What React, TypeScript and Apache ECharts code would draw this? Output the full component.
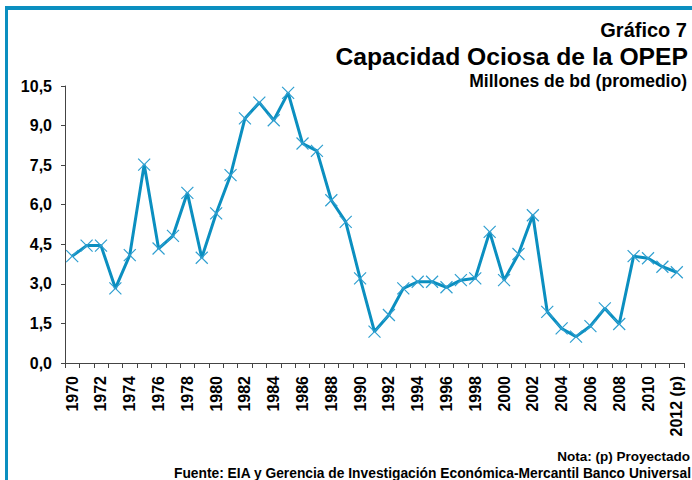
import React, { useEffect, useRef } from "react";
import * as echarts from "echarts";

const years: string[] = [
  "1970", "1971", "1972", "1973", "1974", "1975", "1976", "1977", "1978", "1979",
  "1980", "1981", "1982", "1983", "1984", "1985", "1986", "1987", "1988", "1989",
  "1990", "1991", "1992", "1993", "1994", "1995", "1996", "1997", "1998", "1999",
  "2000", "2001", "2002", "2003", "2004", "2005", "2006", "2007", "2008", "2009",
  "2010", "2011", "2012 (p)",
];

const capacidadOciosa: number[] = [
  4.05, 4.45, 4.45, 2.83, 4.09, 7.52, 4.34, 4.82, 6.45, 3.99,
  5.67, 7.12, 9.27, 9.87, 9.2, 10.24, 8.32, 8.04, 6.17, 5.35,
  3.21, 1.19, 1.82, 2.83, 3.08, 3.08, 2.87, 3.14, 3.21, 4.97,
  3.14, 4.13, 5.6, 1.94, 1.31, 1.0, 1.4, 2.07, 1.48, 4.05,
  3.97, 3.65, 3.44,
];

const titleLines: string[] = [
  "Gráfico 7",
  "Capacidad Ociosa de la OPEP",
  "Millones de bd (promedio)",
];
const footNote = "Nota: (p) Proyectado";
const footSource =
  "Fuente: EIA y Gerencia de Investigación Económica-Mercantil Banco Universal";

const FONT = "'Liberation Sans', Arial, Helvetica, sans-serif";
const BLUE = "#0b8fc0";
const MARK = "#2f9fd0";

export default function App() {
  const ref = useRef<HTMLDivElement>(null);

  useEffect(() => {
    if (!ref.current) return;
    const chart = echarts.init(ref.current, null, { renderer: "svg" });
    chart.setOption({
      animation: false,
      backgroundColor: "#ffffff",
      grid: { left: 65, right: 8, top: 86, bottom: 117, containLabel: false },
      xAxis: {
        type: "category",
        data: years,
        boundaryGap: true,
        axisLine: { lineStyle: { color: "#444", width: 1 } },
        axisTick: { show: true, interval: 0, length: 5, lineStyle: { color: "#444" } },
        axisLabel: {
          interval: 1,
          rotate: 90,
          margin: 13,
          color: "#000",
          fontFamily: FONT,
          fontWeight: "bold",
          fontSize: 16,
        },
        splitLine: { show: false },
      },
      yAxis: {
        type: "value",
        min: 0,
        max: 10.5,
        interval: 1.5,
        axisLine: { show: true, lineStyle: { color: "#444", width: 1 } },
        axisTick: { show: true, length: 4, lineStyle: { color: "#444" } },
        axisLabel: {
          margin: 13,
          color: "#000",
          fontFamily: FONT,
          fontWeight: "bold",
          fontSize: 16,
          formatter: (v: number) => v.toFixed(1).replace(".", ","),
        },
        splitLine: { show: false },
      },
      series: [
        {
          type: "line",
          data: capacidadOciosa,
          lineStyle: { color: BLUE, width: 3 },
          symbol: "path://M0,0L10,10M10,0L0,10",
          symbolSize: 12,
          showSymbol: true,
          showAllSymbol: true,
          itemStyle: { color: MARK, borderColor: MARK, borderWidth: 1.2 },
          z: 3,
        },
      ],
      graphic: [
        { type: "rect", shape: { x: 5, y: 6, width: 700, height: 4 }, style: { fill: BLUE }, silent: true },
        { type: "rect", shape: { x: 5, y: 6, width: 3, height: 480 }, style: { fill: BLUE }, silent: true },
        {
          type: "text", x: 687, y: 30,
          style: { text: titleLines[0], fill: "#000", font: `bold 20px ${FONT}`, align: "right", verticalAlign: "middle" },
        },
        {
          type: "text", x: 688, y: 56,
          style: { text: titleLines[1], fill: "#000", font: `bold 24.7px ${FONT}`, align: "right", verticalAlign: "middle" },
        },
        {
          type: "text", x: 687, y: 81,
          style: { text: titleLines[2], fill: "#000", font: `bold 17.5px ${FONT}`, align: "right", verticalAlign: "middle" },
        },
        {
          type: "text", x: 690, y: 456,
          style: { text: footNote, fill: "#000", font: `bold 13.5px ${FONT}`, align: "right", verticalAlign: "middle" },
        },
        {
          type: "text", x: 691, y: 473,
          style: { text: footSource, fill: "#000", font: `bold 13.8px ${FONT}`, align: "right", verticalAlign: "middle" },
        },
      ],
    });
    return () => chart.dispose();
  }, []);

  return (
    <div
      ref={ref}
      style={{ position: "fixed", left: 0, top: 0, width: 692, height: 480 }}
    />
  );
}
